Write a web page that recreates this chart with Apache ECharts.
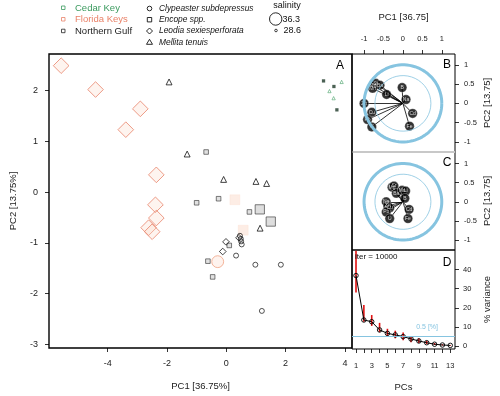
<!DOCTYPE html>
<html>
<head>
<meta charset="utf-8">
<script src="https://cdn.jsdelivr.net/npm/echarts@6/dist/echarts.min.js"></script>
<style>
  html, body { margin: 0; padding: 0; background: #fff; }
  #main { width: 500px; height: 396px; }
</style>
</head>
<body>
<div id="main"></div>
<script>
// panel A: PC scores [PC1, PC2, salinity]
var fkDiamond = [[-5.57, 2.49, 36.3], [-4.41, 2.02, 36.3], [-2.90, 1.64, 36.3], [-3.39, 1.23, 36.3],
                 [-2.36, 0.34, 36.3], [-2.39, -0.25, 36.3], [-2.36, -0.51, 36.3], [-2.62, -0.70, 36.3], [-2.50, -0.78, 36.3]];
var fkSquare = [[0.29, -0.15, 34.4], [0.57, -0.75, 34.4]];
var fkCircle = [[-0.29, -1.37, 35.8]];
var ngSquare = [[-0.68, 0.79, 30.2], [-1.00, -0.21, 30.2], [-0.26, -0.13, 30.2], [0.78, -0.39, 30.2],
                [0.10, -1.05, 30.2], [-0.62, -1.36, 30.2], [-0.46, -1.67, 30.2]];
var ngSquareBig = [[1.13, -0.34, 33.8], [1.50, -0.58, 33.8]];
var ngTriangle = [[-1.93, 2.17, 31.2], [-1.32, 0.75, 31.2], [-0.09, 0.25, 31.2], [1.00, 0.21, 31.2],
                  [1.36, 0.17, 31.2], [1.14, -0.71, 31.2]];
var ngCircle = [[0.46, -0.86, 30.5], [0.49, -0.92, 30.5], [0.50, -0.97, 30.5], [0.52, -1.03, 30.5],
                [0.33, -1.25, 30.5], [0.98, -1.43, 30.5], [1.84, -1.43, 30.5], [1.20, -2.34, 30.5]];
var ngDiamond = [[-0.01, -0.98, 30.8], [-0.12, -1.17, 30.8], [0.43, -0.90, 30.8]];
var ckTriangle = [[3.89, 2.17, 29.2], [3.48, 1.99, 29.2], [3.62, 1.85, 29.2]];
var ckFilled = [[3.28, 2.19, 29.2], [3.63, 2.08, 29.2], [3.73, 1.62, 29.2]];

// panels B and C: variable loadings
var vars = ['Mg', 'Sr', 'Ba', 'Mn', 'Li', 'B', 'Na', 'Zn', 'Cu', 'Pb', 'U', 'Cd', 'Fe'];
var loadB = [[-0.77, 0.47], [-0.70, 0.52], [-0.59, 0.47], [-0.78, 0.39], [-0.42, 0.23], [-0.02, 0.41], [0.08, 0.10],
             [-1.00, 0.00], [-0.80, -0.23], [-0.91, -0.42], [-0.80, -0.61], [0.25, -0.26], [0.17, -0.59]];
var loadC = [[-0.28, 0.38], [-0.23, 0.41], [-0.17, 0.22], [-0.02, 0.30], [0.07, 0.28], [0.05, 0.09], [-0.43, 0.00],
             [-0.39, -0.11], [-0.34, -0.16], [-0.43, -0.27], [-0.34, -0.44], [0.16, -0.20], [0.13, -0.44]];
var circleRadii = [1, 0.72];

// panel D: scree
var pcs = [1, 2, 3, 4, 5, 6, 7, 8, 9, 10, 11, 12, 13];
var variance = [36.9, 13.6, 12.7, 8.4, 6.6, 5.8, 4.9, 3.7, 2.6, 1.7, 0.9, 0.5, 0.3];
var varLow = [28.0, 12.7, 10.5, 7.2, 5.0, 4.0, 3.0, 2.0, 1.5, 1.0, 0.5, 0.2, 0.1];
var varHigh = [49.9, 21.5, 16.2, 12.1, 9.0, 8.0, 7.0, 5.0, 4.0, 2.7, 1.5, 0.9, 0.5];
var cutoff = 5.2;

var ticksA_x = [-4, -2, 0, 2, 4];
var ticksA_y = [-3, -2, -1, 0, 1, 2];
var ticksBC = [-1, -0.5, 0, 0.5, 1];
var ticksD_y = [0, 10, 20, 30, 40];
var labelsD_x = [1, 3, 5, 7, 9, 11, 13];

var FONT = 'Liberation Sans';
var BLUE = '#86c4e0';
var SALMON = '#e9836a';
var GREEN = '#3a9a5e';

function sizeOf(v) { return 2.5 + (v[2] - 28.6) * 1.3; }
function diamondSize(v) { return sizeOf(v) * 1.25; }

function ring(r) {
  var pts = [];
  for (var i = 0; i <= 90; i++) {
    var a = i / 90 * 2 * Math.PI;
    pts.push([r * Math.cos(a), r * Math.sin(a)]);
  }
  return pts;
}

function hollow(stroke, fill, w) {
  return { color: fill || 'rgba(255,255,255,0)', borderColor: stroke, borderWidth: w || 0.9 };
}

function scoreSeries(data, symbol, style) {
  return { type: 'scatter', xAxisIndex: 0, yAxisIndex: 0, data: data, symbol: symbol,
           symbolSize: symbol === 'diamond' ? diamondSize : sizeOf, itemStyle: style, silent: true };
}

function loadingSeries(idx, load) {
  var out = [];
  circleRadii.forEach(function (r, k) {
    out.push({ type: 'line', xAxisIndex: idx, yAxisIndex: idx, data: ring(r), showSymbol: false,
               lineStyle: { color: BLUE, width: k === 0 ? 3 : 0.8 }, silent: true });
  });
  out.push({ type: 'lines', coordinateSystem: 'cartesian2d', xAxisIndex: idx, yAxisIndex: idx,
             data: load.map(function (p) { return { coords: [[0, 0], p] }; }),
             lineStyle: { color: '#000', width: 0.8, opacity: 1 }, silent: true });
  out.push({ type: 'scatter', xAxisIndex: idx, yAxisIndex: idx, symbolSize: 9.5,
             data: load.map(function (p, i) { return { name: vars[i], value: p }; }),
             itemStyle: { color: '#000', borderColor: '#fff', borderWidth: 0.4 },
             label: { show: true, position: 'inside', formatter: '{b}', color: '#fff', fontSize: 5, fontFamily: FONT },
             silent: true });
  return out;
}

function tickAxis(o) {
  var base = {
    type: 'value', splitLine: { show: false },
    axisLine: { show: false, onZero: false },
    axisTick: { show: true, length: 4, lineStyle: { color: '#000', width: 0.8 } },
    axisLabel: { fontSize: 7.5, color: '#222', fontFamily: FONT },
    nameLocation: 'middle',
    nameTextStyle: { fontSize: 9.5, color: '#222', fontFamily: FONT }
  };
  for (var k in o) {
    if (typeof o[k] === 'object' && base[k] && !Array.isArray(o[k])) {
      base[k] = Object.assign({}, base[k], o[k]);
    } else {
      base[k] = o[k];
    }
  }
  return base;
}

var myChart = echarts.init(document.getElementById('main'));

var option = {
  animation: false,
  backgroundColor: '#fff',
  grid: [
    { left: 47, top: 54, width: 305, height: 295, show: true, borderColor: '#000', borderWidth: 1.4 },
    { left: 352, top: 54, width: 103, height: 98, show: true, borderColor: '#000', borderWidth: 1 },
    { left: 352, top: 152, width: 103, height: 98, show: true, borderColor: '#000', borderWidth: 1 },
    { left: 352, top: 250, width: 103, height: 99, show: true, borderColor: '#000', borderWidth: 1 }
  ],
  xAxis: [
    tickAxis({ gridIndex: 0, min: -5.98, max: 4.24, name: 'PC1 [36.75%]', nameGap: 33,
               axisTick: { customValues: ticksA_x },
               axisLabel: { customValues: ticksA_x, fontSize: 9, margin: 11 } }),
    tickAxis({ gridIndex: 1, position: 'top', min: -1.31, max: 1.34, name: 'PC1 [36.75]', nameGap: 32,
               axisTick: { customValues: ticksBC },
               axisLabel: { customValues: ticksBC, margin: 11 } }),
    tickAxis({ gridIndex: 2, min: -1.31, max: 1.34, axisTick: { show: false }, axisLabel: { show: false } }),
    tickAxis({ gridIndex: 3, min: 0.49, max: 13.6, name: 'PCs', nameGap: 33,
               axisTick: { customValues: pcs },
               axisLabel: { customValues: labelsD_x, margin: 13 } })
  ],
  yAxis: [
    tickAxis({ gridIndex: 0, min: -3.07, max: 2.72, name: 'PC2 [13.75%]', nameGap: 31, nameRotate: 90,
               axisTick: { customValues: ticksA_y },
               axisLabel: { customValues: ticksA_y, fontSize: 9, margin: 11 } }),
    tickAxis({ gridIndex: 1, position: 'right', min: -1.26, max: 1.28, name: 'PC2 [13.75]', nameGap: 27, nameRotate: 90,
               axisTick: { customValues: ticksBC },
               axisLabel: { customValues: ticksBC, margin: 9 } }),
    tickAxis({ gridIndex: 2, position: 'right', min: -1.26, max: 1.30, name: 'PC2 [13.75]', nameGap: 27, nameRotate: 90,
               axisTick: { customValues: ticksBC },
               axisLabel: { customValues: ticksBC, margin: 9 } }),
    tickAxis({ gridIndex: 3, position: 'right', min: -1.6, max: 50.3, name: '% variance', nameGap: 27, nameRotate: 90,
               axisTick: { customValues: ticksD_y },
               axisLabel: { customValues: ticksD_y, margin: 8 } })
  ],
  series: [
    scoreSeries(fkDiamond, 'diamond', hollow(SALMON, 'rgba(252,215,198,0.35)', 1)),
    scoreSeries(fkSquare, 'rect', { color: 'rgba(251,214,196,0.55)', borderColor: 'rgba(240,170,140,0.25)', borderWidth: 0.5 }),
    scoreSeries(fkCircle, 'circle', hollow('#f0a283', 'rgba(252,222,208,0.45)', 1)),
    scoreSeries(ngSquare, 'rect', hollow('#333', '#d9d9d9', 0.8)),
    scoreSeries(ngSquareBig, 'rect', hollow('#333', '#d6d6d6', 0.8)),
    scoreSeries(ngTriangle, 'triangle', hollow('#111', null, 1)),
    scoreSeries(ngCircle, 'circle', hollow('#111', null, 0.9)),
    scoreSeries(ngDiamond, 'diamond', hollow('#111', null, 1)),
    scoreSeries(ckTriangle, 'triangle', hollow(GREEN, null, 0.7)),
    scoreSeries(ckFilled, 'rect', { color: '#1e3a29' })
  ].concat(loadingSeries(1, loadB), loadingSeries(2, loadC), [
    {
      type: 'custom', xAxisIndex: 3, yAxisIndex: 3, clip: true, silent: true,
      data: pcs.map(function (p, i) { return [p, varLow[i], varHigh[i]]; }),
      renderItem: function (params, api) {
        var a = api.coord([api.value(0), api.value(1)]);
        var b = api.coord([api.value(0), api.value(2)]);
        return { type: 'line', shape: { x1: a[0], y1: a[1], x2: b[0], y2: b[1] },
                 style: { stroke: '#e01010', lineWidth: 1.6 } };
      }
    },
    {
      type: 'line', xAxisIndex: 3, yAxisIndex: 3, silent: true,
      data: pcs.map(function (p, i) { return [p, variance[i]]; }),
      symbol: 'circle', symbolSize: 4.5, showSymbol: true,
      lineStyle: { color: '#000', width: 1 },
      itemStyle: { color: 'rgba(255,255,255,0)', borderColor: '#000', borderWidth: 0.9 },
      markLine: {
        silent: true, symbol: 'none',
        data: [{ yAxis: cutoff }],
        lineStyle: { color: BLUE, width: 1, type: 'solid' },
        label: { show: true, position: 'insideEndTop', formatter: '0.5 [%]', color: BLUE,
                 fontSize: 7, fontFamily: FONT, padding: [0, 12, 0, 0] }
      }
    }
  ]),
  graphic: [
    // separator between B and C
    { type: 'line', shape: { x1: 352.5, y1: 152, x2: 455, y2: 152 }, style: { stroke: '#c8c8c8', lineWidth: 2 }, z: 50 },
    // panel letters
    { type: 'text', x: 340, y: 66, style: { text: 'A', font: '12px ' + FONT, fill: '#000', align: 'center', verticalAlign: 'middle' }, z: 50 },
    { type: 'text', x: 447, y: 65, style: { text: 'B', font: '12px ' + FONT, fill: '#000', align: 'center', verticalAlign: 'middle' }, z: 50 },
    { type: 'text', x: 447, y: 163, style: { text: 'C', font: '12px ' + FONT, fill: '#000', align: 'center', verticalAlign: 'middle' }, z: 50 },
    { type: 'text', x: 447, y: 263, style: { text: 'D', font: '12px ' + FONT, fill: '#000', align: 'center', verticalAlign: 'middle' }, z: 50 },
    { type: 'text', x: 355, y: 257, style: { text: 'iter = 10000', font: '8px ' + FONT, fill: '#111', verticalAlign: 'middle' }, z: 50 },
    // site legend
    { type: 'rect', shape: { x: 61.5, y: 6, width: 3.5, height: 3.5 }, style: { fill: 'none', stroke: GREEN, lineWidth: 0.8 } },
    { type: 'text', x: 75, y: 8, style: { text: 'Cedar Key', font: '9.5px ' + FONT, fill: GREEN, verticalAlign: 'middle' } },
    { type: 'rect', shape: { x: 61.5, y: 17.5, width: 3.5, height: 3.5 }, style: { fill: 'none', stroke: SALMON, lineWidth: 0.8 } },
    { type: 'text', x: 75, y: 19.5, style: { text: 'Florida Keys', font: '9.5px ' + FONT, fill: SALMON, verticalAlign: 'middle' } },
    { type: 'rect', shape: { x: 61.5, y: 29.2, width: 3.5, height: 3.5 }, style: { fill: 'none', stroke: '#222', lineWidth: 0.8 } },
    { type: 'text', x: 75, y: 31, style: { text: 'Northern Gulf', font: '9.5px ' + FONT, fill: '#222', verticalAlign: 'middle' } },
    // species legend
    { type: 'circle', shape: { cx: 149.5, cy: 8.5, r: 2.3 }, style: { fill: 'none', stroke: '#111', lineWidth: 0.9 } },
    { type: 'text', x: 159, y: 8.5, style: { text: 'Clypeaster subdepressus', font: 'italic 8.4px ' + FONT, fill: '#111', verticalAlign: 'middle' } },
    { type: 'rect', shape: { x: 147.3, y: 17.5, width: 4.4, height: 4.4 }, style: { fill: 'none', stroke: '#111', lineWidth: 0.9 } },
    { type: 'text', x: 159, y: 19.7, style: { text: 'Encope spp.', font: 'italic 8.4px ' + FONT, fill: '#111', verticalAlign: 'middle' } },
    { type: 'polygon', shape: { points: [[149.5, 28], [152.5, 31], [149.5, 34], [146.5, 31]] }, style: { fill: 'none', stroke: '#111', lineWidth: 0.9 } },
    { type: 'text', x: 159, y: 31, style: { text: 'Leodia sexiesperforata', font: 'italic 8.4px ' + FONT, fill: '#111', verticalAlign: 'middle' } },
    { type: 'polygon', shape: { points: [[149.5, 39.3], [152.5, 44.3], [146.5, 44.3]] }, style: { fill: 'none', stroke: '#111', lineWidth: 0.9 } },
    { type: 'text', x: 159, y: 42.3, style: { text: 'Mellita tenuis', font: 'italic 8.4px ' + FONT, fill: '#111', verticalAlign: 'middle' } },
    // salinity legend
    { type: 'text', x: 287, y: 6, style: { text: 'salinity', font: '9px ' + FONT, fill: '#111', align: 'center', verticalAlign: 'middle' } },
    { type: 'circle', shape: { cx: 275.7, cy: 19, r: 6.2 }, style: { fill: 'none', stroke: '#111', lineWidth: 0.9 } },
    { type: 'text', x: 282.5, y: 19.5, style: { text: '36.3', font: '9px ' + FONT, fill: '#111', verticalAlign: 'middle' } },
    { type: 'circle', shape: { cx: 276, cy: 30.5, r: 1.3 }, style: { fill: 'none', stroke: '#111', lineWidth: 0.8 } },
    { type: 'text', x: 283.5, y: 30.5, style: { text: '28.6', font: '9px ' + FONT, fill: '#111', verticalAlign: 'middle' } }
  ]
};

myChart.setOption(option);
</script>
</body>
</html>
